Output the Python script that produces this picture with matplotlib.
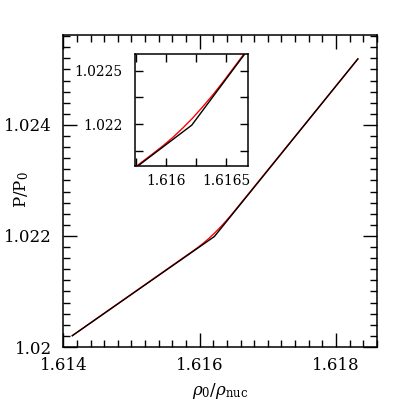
import matplotlib
matplotlib.use("Agg")
import matplotlib.pyplot as plt
from matplotlib.ticker import FixedLocator, MultipleLocator

plt.rcParams['font.family'] = ['DejaVu Serif']
plt.rcParams['mathtext.fontset'] = 'dejavuserif'

# black piecewise line
black_x = [1.614132, 1.616216, 1.618321]
black_y = [1.020204, 1.021990, 1.025189]

# red smooth curve
red_x = [1.614132, 1.615900, 1.615979, 1.616059, 1.616140, 1.616221,
         1.616302, 1.616384, 1.616467, 1.616550, 1.618321]
red_y = [1.020204, 1.021728, 1.021798, 1.021875, 1.021961, 1.022054,
         1.022156, 1.022265, 1.022383, 1.022508, 1.025189]

x_ticks = [1.614, 1.616, 1.618]
x_labels = ["1.614", "1.616", "1.618"]
y_ticks = [1.020, 1.022, 1.024]
y_labels = ["1.02", "1.022", "1.024"]

in_x_ticks = [1.616, 1.6165]
in_x_labels = ["1.616", "1.6165"]
in_y_ticks = [1.022, 1.0225]
in_y_labels = ["1.022", "1.0225"]

fig = plt.figure(figsize=(4.11, 4.11), dpi=100)
ax = fig.add_axes([0.154, 0.1557, 0.763, 0.7591])

def draw(a):
    a.plot(red_x, red_y, color='red', lw=1.0, zorder=2)
    a.plot(black_x, black_y, color='black', lw=1.0, zorder=3)

draw(ax)
ax.set_xlim(1.614, 1.6186)
ax.set_ylim(1.020, 1.02562)
ax.xaxis.set_major_locator(FixedLocator(x_ticks))
ax.set_xticklabels(x_labels)
ax.yaxis.set_major_locator(FixedLocator(y_ticks))
ax.set_yticklabels(y_labels)
ax.xaxis.set_minor_locator(MultipleLocator(0.0002))
ax.yaxis.set_minor_locator(MultipleLocator(0.0002))
ax.tick_params(which='both', direction='in', top=True, right=True, labelsize=12, width=1.0)
ax.tick_params(which='major', length=10)
ax.tick_params(axis='x', which='major', pad=7)
ax.tick_params(axis='y', which='major', pad=8)
ax.tick_params(which='minor', length=5)
for s in ax.spines.values():
    s.set_linewidth(1.1)
ax.set_xlabel(r'$\rho_0/\rho_{\rm nuc}$', fontsize=12, labelpad=5)
fig.text(22 / 411, 1 - 190 / 411, r'P/P$_0$', rotation=90, ha='center', va='center', fontsize=12)

ins = fig.add_axes([0.3285, 0.596, 0.2749, 0.2726])
draw(ins)
ins.set_xlim(1.615745, 1.616682)
ins.set_ylim(1.021606, 1.022657)
ins.xaxis.set_major_locator(FixedLocator(in_x_ticks))
ins.set_xticklabels(in_x_labels)
ins.yaxis.set_major_locator(FixedLocator(in_y_ticks))
ins.set_yticklabels(in_y_labels)
ins.xaxis.set_minor_locator(MultipleLocator(0.00025))
ins.yaxis.set_minor_locator(MultipleLocator(0.00025))
ins.tick_params(which='both', direction='in', top=True, right=True, labelsize=10, width=1.0)
ins.tick_params(which='major', length=6)
ins.tick_params(axis='x', which='major', pad=6)
ins.tick_params(axis='y', which='major', pad=9)
ins.tick_params(which='minor', length=6)
for s in ins.spines.values():
    s.set_linewidth(1.1)

fig.savefig("out.png", dpi=100)
